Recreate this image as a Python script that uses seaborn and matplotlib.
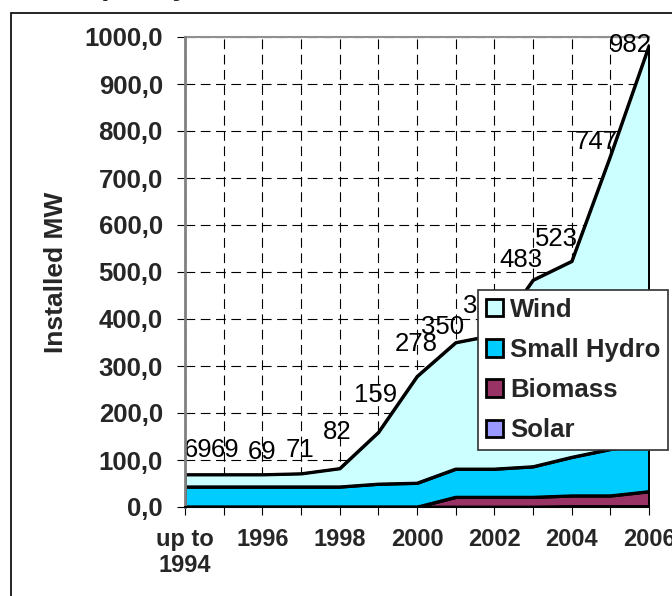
import numpy as np
import pandas as pd
import matplotlib
matplotlib.use("Agg")
import matplotlib.pyplot as plt
import seaborn as sns
from matplotlib.patches import Patch, Rectangle

# Installed capacity per source (MW)
years = ["up to\n1994", "1995", "1996", "1997", "1998", "1999", "2000",
         "2001", "2002", "2003", "2004", "2005", "2006"]
solar = [0, 0, 0, 0, 0, 0, 0, 0, 0, 0, 1, 1, 1]
biomass = [0, 0, 0, 0, 0, 0, 0, 21, 21, 21, 23, 23, 32]
small_hydro = [43, 43, 43, 43, 43, 49, 51, 60, 60, 65, 82, 99, 102]
wind = [26, 26, 26, 28, 39, 110, 227, 269, 285, 397, 417, 624, 847]

series_names = ["Solar", "Biomass", "Small Hydro", "Wind"]
series_colors = ["#9999FF", "#993366", "#00CCFF", "#CCFFFF"]
title = "Installed Capacity"

# Pixel nudges for the total labels (dx, dy upward)
label_offsets = [(13, 25), (1, 25), (0, 23), (-1, 24), (-2, 36), (-3, 37),
                 (-1, 32), (-13, 16), (-10, 29), (-12, 20), (-15, 22),
                 (-14, 14), (-19, 0)]

sns.set_theme(style="white")
plt.rcParams["font.family"] = ["Liberation Sans", "DejaVu Sans"]
plt.rcParams["lines.scale_dashes"] = False

W, H = 672, 596
fig = plt.figure(figsize=(W / 100, H / 100), dpi=100)
fig.patch.set_facecolor("white")
ax = fig.add_axes([185 / W, 1 - 507 / H, (649 - 185) / W, (507 - 37) / H])
ax.set_facecolor("white")

x = np.arange(len(years))
stack = np.vstack([solar, biomass, small_hydro, wind]).astype(float)
cum = np.cumsum(stack, axis=0)
lower = np.vstack([np.zeros(len(years)), cum[:-1]])

long = pd.DataFrame({
    "x": np.tile(x, len(series_names)),
    "top": cum.ravel(),
    "series": np.repeat(series_names, len(years)),
})

for i, (name, col) in enumerate(zip(series_names, series_colors)):
    ax.fill_between(x, lower[i], cum[i], facecolor=col, edgecolor="black",
                    linewidth=2.0, zorder=2)

sns.lineplot(data=long, x="x", y="top", hue="series", palette=["black"] * 4,
             linewidth=2.0, legend=False, ax=ax, zorder=3, estimator=None)
ax.plot([x[-1], x[-1]], [0, cum[-1, -1]], color="black", lw=2.0, zorder=3)

# Grid
ax.set_xlim(0, 12)
ax.set_ylim(0, 1000)
ax.set_xticks(x)
ax.set_xticklabels([lab if i % 2 == 0 else "" for i, lab in enumerate(years)])
yt = np.arange(0, 1001, 100)
ax.set_yticks(yt)
ax.set_yticklabels([f"{v:.1f}".replace(".", ",") for v in yt])
ax.grid(True, color="black", linestyle=(0, (7, 4)), linewidth=0.8, zorder=0.5)
ax.set_axisbelow(True)

for lab in ax.get_yticklabels():
    lab.set_fontsize(18.5)
    lab.set_fontweight("bold")
for lab in ax.get_xticklabels():
    lab.set_fontsize(17)
    lab.set_fontweight("bold")
    lab.set_linespacing(1.15)

ax.tick_params(axis="both", direction="out", length=6, width=0.8,
               color="black", bottom=True, left=True)
ax.tick_params(axis="y", pad=10)
ax.tick_params(axis="x", pad=9)

ax.spines["left"].set_color("#808080")
ax.spines["left"].set_linewidth(2.0)
ax.spines["left"].set_zorder(4)
ax.spines["top"].set_color("#909090")
ax.spines["top"].set_linewidth(1.5)
ax.spines["right"].set_visible(False)
ax.spines["bottom"].set_color("black")
ax.spines["bottom"].set_linewidth(1.5)
ax.spines["bottom"].set_zorder(4)

ax.set_xlabel("")
ax.set_ylabel("Installed MW", fontsize=19, fontweight="bold", labelpad=12)

# Totals above the stack
totals = cum[-1]
for i, t in enumerate(totals):
    dx, dy = label_offsets[i]
    ax.annotate(f"{int(round(t))}", (x[i], t), xytext=(dx, dy),
                textcoords="offset pixels", ha="center", va="center",
                fontsize=18.5, color="black", zorder=3.5,
                annotation_clip=False)

# Legend
handles = [Patch(facecolor=c, edgecolor="black", linewidth=2.0)
           for c in series_colors[::-1]]
leg = fig.legend(handles, series_names[::-1], loc="upper left",
                 bbox_to_anchor=(478 / W, 1 - 290 / H),
                 prop={"size": 18.5, "weight": "bold"},
                 handlelength=0.66, handleheight=0.66, handletextpad=0.3,
                 labelspacing=0.63, borderpad=0.3, borderaxespad=0,
                 frameon=True, fancybox=False, framealpha=1)
leg.get_frame().set_edgecolor("#303030")
leg.get_frame().set_linewidth(1.2)
leg.set_zorder(6)

# Chart area border
fig.add_artist(Rectangle((11 / W, -0.1), 1.2, 1.1 - 13 / H,
                         transform=fig.transFigure, fill=False,
                         edgecolor="black", linewidth=1.2))

# Chart title sitting above the visible area, descenders only
renderer = fig.canvas.get_renderer()
probe = fig.text(0, 0, title[:title.index("p")], fontsize=22,
                 fontweight="bold")
prefix_w = probe.get_window_extent(renderer).width
probe.remove()
fig.text((101 - prefix_w) / W, 1 + 6 / H, title, fontsize=22,
         fontweight="bold", ha="left", va="baseline")

fig.savefig("out.png", dpi=100)
